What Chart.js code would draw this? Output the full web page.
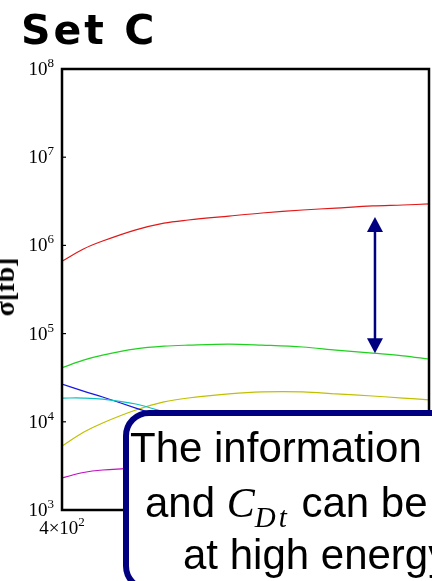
<!DOCTYPE html>
<html><head><meta charset="utf-8">
<script src="https://cdn.jsdelivr.net/npm/chart.js@4"></script>
<style>
html,body{margin:0;padding:0;background:#fff;overflow:hidden;width:432px;height:581px;}
#wrap{position:relative;width:432px;height:581px;overflow:hidden;}
#c{position:absolute;left:0;top:0;}
#title{position:absolute;left:21px;top:10px;font:bold 41px "DejaVu Sans";line-height:1;letter-spacing:3px;color:#000;white-space:nowrap;}
#ylab{position:absolute;left:5px;top:287px;width:0;height:0;}
#ylab span{position:absolute;left:0;top:0;transform:translate(-50%,-50%) rotate(-90deg);font:bold 28px "Liberation Serif";line-height:1;white-space:nowrap;color:#000;}
#box{position:absolute;left:123px;top:410px;width:600px;height:182px;border:6px solid #000080;border-radius:26px;background:#fff;box-sizing:border-box;}
.ln{position:absolute;font:42px "Liberation Sans";line-height:1;white-space:nowrap;color:#000;}
.m{font:italic 42px "Liberation Serif";}
.m sub{font:italic 29px "Liberation Serif";letter-spacing:3px;vertical-align:-10px;line-height:0;}
</style></head>
<body><div id="wrap">
<canvas id="c" width="432" height="581"></canvas>
<div id="title">Set C</div>
<div id="ylab"><span>σ[fb]</span></div>
<div id="box"></div>
<div class="ln" style="left:130px;top:427px;">The information</div>
<div class="ln" style="left:145px;top:479px;">and <span class="m">C<sub>Dt</sub></span> can be</div>
<div class="ln" style="left:183px;top:534px;">at high energy</div>
</div>
<script>
const energies = [400, 450, 500, 600, 700, 800, 1000, 1200, 1500, 1800, 2200, 2600, 3000];
const sigmaRed     = [6.6e5, 9.1e5, 1.12e6, 1.50e6, 1.79e6, 1.94e6, 2.15e6, 2.33e6, 2.52e6, 2.65e6, 2.80e6, 2.87e6, 2.95e6];
const sigmaGreen   = [4.1e4, 5.0e4, 5.7e4, 6.7e4, 7.2e4, 7.4e4, 7.6e4, 7.4e4, 7.05e4, 6.5e4, 6.0e4, 5.6e4, 5.15e4];
const sigmaYellow  = [5.3e3, 7.6e3, 9.7e3, 1.36e4, 1.68e4, 1.86e4, 2.07e4, 2.18e4, 2.18e4, 2.07e4, 1.96e4, 1.86e4, 1.77e4];
const sigmaBlue    = [2.68e4, 2.23e4, 1.91e4, 1.43e4, 1.13e4, 9.2e3, 6.7e3, 5.6e3, 4.6e3, 3.9e3, 3.3e3, 2.9e3, 2.6e3];
const sigmaCyan    = [1.86e4, 1.86e4, 1.81e4, 1.59e4, 1.29e4, 1.05e4, 8.5e3, 7.2e3, 6.0e3, 5.2e3, 4.5e3, 4.0e3, 3.6e3];
const sigmaMagenta = [2.31e3, 2.66e3, 2.84e3, 2.99e3, 3.05e3, 3.1e3, 3.1e3, 3.05e3, 3.0e3, 2.9e3, 2.8e3, 2.7e3, 2.6e3];
const yTickExponents = [3, 4, 5, 6, 7, 8];
const xTickValues = [400];
const xTickBases = ['4×10'];
const xTickSups = ['2'];
const arrowEnergy = [2230];
const arrowSigma = [2.1e6, 6.0e4];

function pts(vals){ return energies.map((e,i)=>({x:e, y:vals[i]})); }
function ds(vals, color){
  return {data:pts(vals), borderColor:color, borderWidth:1.2, pointRadius:0, fill:false, tension:0.35};
}

const overlay = {
  id:'overlay',
  afterDatasetsDraw(chart){
    const {ctx, chartArea:a, scales:{x, y}} = chart;
    ctx.save();
    // double arrow
    const ax = x.getPixelForValue(arrowEnergy[0]);
    const y1 = y.getPixelForValue(arrowSigma[0]);
    const y2 = y.getPixelForValue(arrowSigma[1]);
    const hh = 15, hw = 8;
    ctx.strokeStyle = '#000080'; ctx.fillStyle = '#000080'; ctx.lineWidth = 2.5;
    ctx.beginPath(); ctx.moveTo(ax, y1 + hh - 1); ctx.lineTo(ax, y2 - hh + 1); ctx.stroke();
    ctx.beginPath(); ctx.moveTo(ax, y1); ctx.lineTo(ax - hw, y1 + hh); ctx.lineTo(ax + hw, y1 + hh); ctx.closePath(); ctx.fill();
    ctx.beginPath(); ctx.moveTo(ax, y2); ctx.lineTo(ax - hw, y2 - hh); ctx.lineTo(ax + hw, y2 - hh); ctx.closePath(); ctx.fill();
    // frame
    ctx.strokeStyle = '#000'; ctx.lineWidth = 2.5;
    ctx.strokeRect(a.left, a.top, a.right - a.left, a.bottom - a.top);
    // y ticks and labels
    ctx.fillStyle = '#000';
    ctx.textBaseline = 'alphabetic'; ctx.textAlign = 'left';
    yTickExponents.forEach(e => {
      const py = y.getPixelForValue(Math.pow(10, e));
      ctx.lineWidth = 1.2;
      if (e > 3 && e < 8) { ctx.beginPath(); ctx.moveTo(a.left, py); ctx.lineTo(a.left + 4, py); ctx.stroke(); }
      ctx.font = '13px "Liberation Serif"';
      const sw = ctx.measureText(String(e)).width;
      ctx.font = '19px "Liberation Serif"';
      const bw = ctx.measureText('10').width;
      const right = 54;
      ctx.fillText('10', right - sw - bw, py + 6);
      ctx.font = '13px "Liberation Serif"';
      ctx.fillText(String(e), right - sw, py - 2);
    });
    // x tick labels
    xTickValues.forEach((v, i) => {
      const px = x.getPixelForValue(v);
      ctx.font = '19px "Liberation Serif"';
      const bw = ctx.measureText(xTickBases[i]).width;
      ctx.font = '13px "Liberation Serif"';
      const sw = ctx.measureText(xTickSups[i]).width;
      const left = px - (bw + sw) / 2;
      ctx.font = '19px "Liberation Serif"';
      ctx.fillText(xTickBases[i], left, a.bottom + 24);
      ctx.font = '13px "Liberation Serif"';
      ctx.fillText(xTickSups[i], left + bw, a.bottom + 16);
    });
    ctx.restore();
  }
};

new Chart(document.getElementById('c'), {
  type:'line',
  data:{datasets:[
    ds(sigmaMagenta, '#c010c0'),
    ds(sigmaCyan, '#10c0c0'),
    ds(sigmaBlue, '#1818e0'),
    ds(sigmaYellow, '#c0c000'),
    ds(sigmaGreen, '#20d020'),
    ds(sigmaRed, '#e01818')
  ]},
  options:{
    responsive:false, animation:false, devicePixelRatio:1,
    layout:{padding:{left:62, top:69, right:3, bottom:71}},
    plugins:{legend:{display:false}, tooltip:{enabled:false}},
    scales:{
      x:{type:'logarithmic', min:400, max:3000, display:false},
      y:{type:'logarithmic', min:1000, max:1e8, display:false}
    }
  },
  plugins:[overlay]
});
</script>
</body></html>
